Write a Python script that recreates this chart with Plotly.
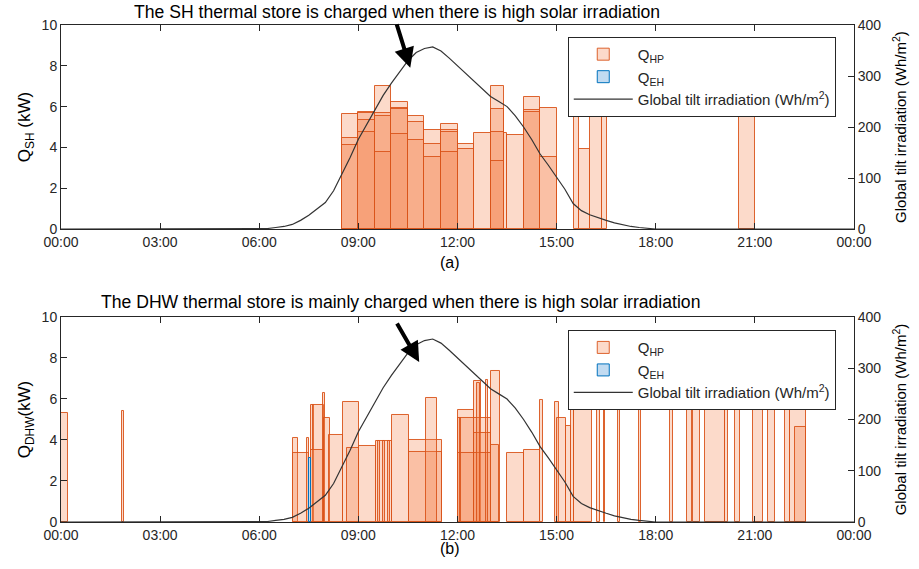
import plotly.graph_objects as go

# ---------------- data ----------------
tick_hours = [0, 3, 6, 9, 12, 15, 18, 21, 24]
tick_labels = ["00:00", "03:00", "06:00", "09:00", "12:00", "15:00", "18:00", "21:00", "00:00"]

irr_time = [0, 6.0, 6.25, 6.5, 6.75, 7.0, 7.25, 7.5, 7.75, 8.0, 8.25, 8.5, 8.75, 9.0, 9.25, 9.5, 9.75,
            10.0, 10.25, 10.5, 10.75, 11.0, 11.25, 11.5, 11.75, 12.0, 12.25, 12.5, 12.75, 13.0, 13.25,
            13.5, 13.75, 14.0, 14.25, 14.5, 14.75, 15.0, 15.25, 15.5, 15.75, 16.0, 16.25, 16.5, 16.75,
            17.0, 17.25, 17.5, 17.75, 18.0, 24]
irr_value = [0, 0, 1, 3, 5, 9, 17, 27, 40, 52, 75, 107, 140, 176, 205, 233, 262,
             286, 308, 330, 346, 354, 357, 349, 335, 320, 305, 290, 275, 260, 250,
             240, 222, 200, 175, 147, 125, 102, 78, 50, 36, 28, 22, 17, 12,
             8, 5, 3, 2, 0, 0]

# SH heat-pump charging bars (start h, end h, kW)
sh_start = [8.5, 8.5, 8.5, 9.0, 9.0, 9.0, 9.0, 9.5, 9.5, 9.5, 9.5, 10.0, 10.0, 10.0, 10.0,
            10.5, 10.5, 10.5, 11.0, 11.0, 11.0, 11.5, 11.5, 11.5, 11.5, 12.0, 12.0, 12.5,
            13.0, 13.0, 13.0, 13.0, 13.4, 13.5, 14.0, 14.0, 14.0, 14.5, 14.5,
            15.52, 15.67, 16.02, 16.37, 20.52]
sh_end = [9.0, 9.0, 9.0, 9.5, 9.5, 9.5, 9.5, 10.0, 10.0, 10.0, 10.0, 10.5, 10.5, 10.5, 10.5,
          11.0, 11.0, 11.0, 11.5, 11.5, 11.5, 12.0, 12.0, 12.0, 12.0, 12.5, 12.5, 13.0,
          13.4, 13.4, 13.4, 13.4, 13.5, 14.0, 14.5, 14.5, 14.5, 15.0, 15.0,
          15.67, 16.02, 16.37, 16.52, 21.0]
sh_kw = [5.62, 4.48, 4.12, 5.75, 5.67, 5.34, 4.77, 7.0, 5.67, 5.56, 3.79, 6.24, 5.95, 5.87, 4.66,
         5.54, 5.26, 4.36, 4.85, 4.17, 3.51, 5.15, 4.85, 4.77, 3.79, 4.17, 3.92, 4.69,
         7.0, 5.87, 4.74, 3.35, 4.7, 4.6, 6.49, 5.83, 5.75, 5.92, 3.51,
         5.9, 3.9, 5.9, 5.9, 5.9]

# DHW heat-pump charging bars
dhw_start = [0.0, 1.85, 7.03, 7.03, 7.45, 7.57, 7.62, 7.57, 7.92, 7.97, 8.12, 8.52, 8.67, 9.03,
             9.53, 9.6, 9.75, 9.9, 10.03, 10.54, 10.54, 11.04, 12.0, 12.0, 12.0, 12.08,
             12.5, 12.5, 12.5, 12.5, 12.6, 12.85, 13.0, 13.0, 13.5, 14.0, 14.5, 14.96, 15.0,
             15.27, 15.42, 15.52, 16.22, 16.42, 16.87, 17.48, 18.44, 18.94, 19.14, 19.49,
             20.1, 20.4, 20.95, 21.4, 21.9, 22.06, 22.2]
dhw_end = [0.2, 1.9, 7.16, 7.52, 7.52, 7.67, 7.97, 7.97, 8.0, 8.15, 8.52, 9.03, 9.03, 9.53,
           10.03, 9.65, 9.8, 9.95, 10.54, 11.54, 11.54, 11.39, 12.5, 12.5, 12.5, 12.12,
           12.7, 13.0, 13.0, 13.0, 12.67, 12.93, 13.3, 13.27, 14.0, 14.5, 14.6, 15.06, 15.27,
           15.42, 15.52, 16.07, 16.32, 16.47, 16.92, 17.56, 18.53, 19.09, 19.34, 20.1,
           20.2, 20.55, 21.25, 21.6, 22.06, 22.56, 22.56]
dhw_kw = [5.33, 5.41, 4.08, 3.38, 4.08, 5.7, 5.7, 3.5, 6.28, 5.06, 4.24, 5.87, 3.6, 3.7,
          3.97, 3.97, 3.97, 3.97, 5.22, 4.0, 3.43, 6.06, 5.46, 5.05, 3.38, 5.05,
          6.9, 5.05, 4.33, 3.38, 6.8, 6.93, 7.38, 3.76, 3.38, 3.51, 5.95, 5.87, 5.06,
          4.7, 5.87, 5.9, 5.9, 5.9, 5.9, 5.9, 5.9, 5.9, 5.9, 5.9,
          5.9, 5.9, 5.9, 5.9, 5.9, 5.9, 4.65]

# DHW electric-heater bars
eh_start = [7.5]
eh_end = [7.57]
eh_kw = [3.1]

# ---------------- styles ----------------
HP_FILL = "rgba(245,132,78,0.30)"
HP_LINE = "rgba(217,83,25,0.9)"
EH_FILL = "rgba(120,175,225,0.45)"
EH_LINE = "#0072BD"
AX = "#262626"
FONT = "Liberation Sans, Arial, sans-serif"


def mids(s, e):
    return [(a + b) / 2 for a, b in zip(s, e)]


def widths(s, e):
    return [b - a for a, b in zip(s, e)]


fig = go.Figure()

# panel (a)
fig.add_trace(go.Bar(x=mids(sh_start, sh_end), y=sh_kw, width=widths(sh_start, sh_end),
                     marker=dict(color=HP_FILL, line=dict(color=HP_LINE, width=1)),
                     name="Q<sub>HP</sub>", xaxis="x", yaxis="y", legend="legend"))
fig.add_trace(go.Bar(x=[None], y=[None],
                     marker=dict(color=EH_FILL, line=dict(color=EH_LINE, width=1)),
                     name="Q<sub>EH</sub>", xaxis="x", yaxis="y", legend="legend"))
fig.add_trace(go.Scatter(x=irr_time, y=irr_value, mode="lines",
                         line=dict(color="#333333", width=1.2),
                         name="Global tilt irradiation (Wh/m<sup>2</sup>)",
                         xaxis="x", yaxis="y3", legend="legend"))

# panel (b)
fig.add_trace(go.Bar(x=mids(dhw_start, dhw_end), y=dhw_kw, width=widths(dhw_start, dhw_end),
                     marker=dict(color=HP_FILL, line=dict(color=HP_LINE, width=1)),
                     name="Q<sub>HP</sub>", xaxis="x2", yaxis="y2", legend="legend2"))
fig.add_trace(go.Bar(x=mids(eh_start, eh_end), y=eh_kw, width=widths(eh_start, eh_end),
                     marker=dict(color=EH_FILL, line=dict(color=EH_LINE, width=1)),
                     name="Q<sub>EH</sub>", xaxis="x2", yaxis="y2", legend="legend2"))
fig.add_trace(go.Scatter(x=irr_time, y=irr_value, mode="lines",
                         line=dict(color="#333333", width=1.2),
                         name="Global tilt irradiation (Wh/m<sup>2</sup>)",
                         xaxis="x2", yaxis="y4", legend="legend2"))

xcommon = dict(range=[0, 24], tickvals=tick_hours, ticktext=tick_labels, ticks="inside",
               ticklen=6, tickcolor=AX, showline=True, linecolor=AX, linewidth=1,
               mirror="ticks", showgrid=False, zeroline=False,
               tickfont=dict(size=14, color=AX, family=FONT))
ycommon = dict(range=[0, 10], dtick=2, ticks="inside", ticklen=6, tickcolor=AX,
               showline=True, linecolor=AX, linewidth=1, showgrid=False, zeroline=False,
               tickfont=dict(size=14, color=AX, family=FONT))
rcommon = dict(range=[0, 400], dtick=100, ticks="inside", ticklen=6, tickcolor=AX,
               showline=True, linecolor=AX, linewidth=1, showgrid=False, zeroline=False,
               side="right", tickfont=dict(size=14, color=AX, family=FONT),
               title=dict(text="Global tilt irradiation (Wh/m<sup>2</sup>)",
                          font=dict(size=15, color="black", family=FONT)))

legcommon = dict(bgcolor="white", bordercolor=AX, borderwidth=1,
                 font=dict(size=15, color=AX, family=FONT), xanchor="right", yanchor="top",
                 tracegroupgap=0, itemwidth=59)

fig.update_layout(
    width=919, height=569,
    margin=dict(l=61, r=63, t=25, b=47),
    paper_bgcolor="white", plot_bgcolor="white",
    barmode="overlay", bargap=0,
    font=dict(family=FONT, color=AX),
    xaxis=dict(domain=[0, 1], anchor="y", **xcommon),
    yaxis=dict(domain=[0.5895, 1], anchor="x",
               title=dict(text="Q<sub>SH</sub> (kW)", font=dict(size=17, color="black", family=FONT),
                          standoff=6),
               **ycommon),
    yaxis3=dict(overlaying="y", anchor="x", **rcommon),
    xaxis2=dict(domain=[0, 1], anchor="y2", **xcommon),
    yaxis2=dict(domain=[0, 0.4125], anchor="x2",
                title=dict(text="Q<sub>DHW</sub>(kW)", font=dict(size=17, color="black", family=FONT),
                           standoff=6),
                **ycommon),
    yaxis4=dict(overlaying="y2", anchor="x2", **rcommon),
    legend=dict(x=0.977, y=0.976, **legcommon),
    legend2=dict(x=0.977, y=0.386, **legcommon),
    showlegend=True,
)

fig.add_annotation(text="The SH thermal store is charged when there is high solar irradiation",
                   xref="paper", yref="paper", x=0.424, y=1.026, yanchor="middle", showarrow=False,
                   font=dict(size=17.6, color="black", family=FONT))
fig.add_annotation(text="The DHW thermal store is mainly charged when there is high solar irradiation",
                   xref="paper", yref="paper", x=0.428, y=0.4427, yanchor="middle", showarrow=False,
                   font=dict(size=17.6, color="black", family=FONT))
fig.add_annotation(text="(a)", xref="paper", yref="paper", x=0.4906, y=0.523, yanchor="middle",
                   showarrow=False, font=dict(size=16, color="black", family=FONT))
fig.add_annotation(text="(b)", xref="paper", yref="paper", x=0.4906, y=-0.054, yanchor="middle",
                   showarrow=False, font=dict(size=16, color="black", family=FONT))
fig.add_annotation(text="", xref="x", yref="y", x=10.57, y=7.9, ax=-14, ay=-45,
                   showarrow=True, arrowhead=2, arrowsize=1, arrowwidth=4, arrowcolor="black")
fig.add_annotation(text="", xref="x2", yref="y2", x=10.84, y=7.8, ax=-23, ay=-40,
                   showarrow=True, arrowhead=2, arrowsize=1, arrowwidth=4, arrowcolor="black")

fig.write_html("out.html")
